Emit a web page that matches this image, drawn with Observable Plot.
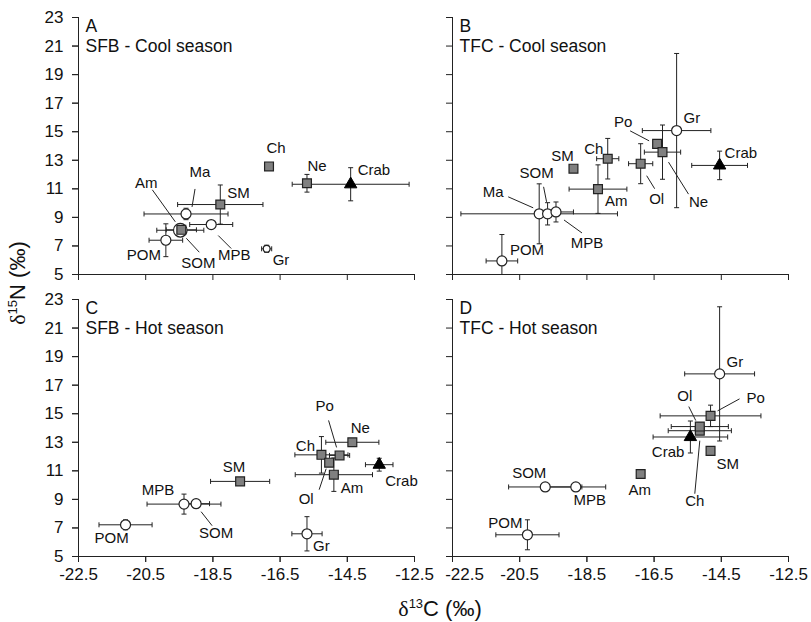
<!DOCTYPE html>
<html><head><meta charset="utf-8">
<script src="https://cdn.jsdelivr.net/npm/d3@7"></script>
<script src="https://cdn.jsdelivr.net/npm/@observablehq/plot@0.6"></script>
<style>
body{margin:0;background:#fff;}
#chart{width:811px;height:622px;position:relative;}
</style></head><body><div id="chart"></div>
<script>
// ---------- DATA ----------
const panelLetters = ["A", "B", "C", "D"];
const panelSites = ["SFB", "TFC", "SFB", "TFC"];
const panelSeasons = ["Cool season", "Cool season", "Hot season", "Hot season"];

const xTicks = [-22.5, -20.5, -18.5, -16.5, -14.5, -12.5];
const yTicks = [5, 7, 9, 11, 13, 15, 17, 19, 21, 23];

// Panel A: SFB - Cool season
const A_groups = ["POM", "SOM", "Am", "Ma", "MPB", "SM", "Ch", "Gr", "Ne", "Crab"];
const A_d13C   = [-19.9, -19.47, -19.44, -19.3, -18.55, -18.28, -16.83, -16.9, -15.7, -14.4];
const A_d15N   = [7.4, 8.1, 8.13, 9.24, 8.5, 9.9, 12.57, 6.8, 11.39, 11.32];
const A_sdC    = [0.5, 0.7, 0.45, 1.25, 0.64, 1.27, 0, 0.15, 0, 1.74];
const A_sdN    = [1.15, 0.3, 0.25, 0.4, 0, 1.37, 0, 0.25, 0.62, 1.16];

// Panel B: TFC - Cool season
const B_groups = ["POM", "Ma", "SOM", "MPB", "SM", "Am", "Ch", "Ol", "Po", "Ne", "Gr", "Crab"];
const B_d13C   = [-21.03, -19.92, -19.67, -19.42, -18.9, -18.17, -17.88, -16.9, -16.41, -16.25, -15.83, -14.55];
const B_d15N   = [5.95, 9.25, 9.25, 9.38, 12.41, 10.98, 13.11, 12.76, 14.15, 13.57, 15.08, 12.64];
const B_sdC    = [0.47, 2.33, 0, 0.52, 0, 0.86, 0.33, 0.36, 0, 0.54, 1.02, 0.83];
const B_sdN    = [1.85, 2.1, 0.78, 0.7, 0, 1.7, 1.42, 1.4, 0, 1.9, 5.4, 1.0];

// Panel C: SFB - Hot season
const C_groups = ["POM", "MPB", "SOM", "SM", "Ch", "Po", "Ol", "Am", "Ne", "Crab", "Gr"];
const C_d13C   = [-21.1, -19.36, -19.0, -17.69, -15.27, -14.73, -15.04, -14.9, -14.35, -13.55, -15.7];
const C_d15N   = [7.22, 8.67, 8.7, 10.26, 12.12, 12.08, 11.57, 10.73, 13.0, 11.43, 6.59];
const C_sdC    = [0.79, 1.1, 0.4, 0.88, 0.79, 0.3, 0, 1.15, 0.79, 0.41, 0.45];
const C_sdN    = [0.35, 0.7, 0, 0.2, 1.28, 0, 0, 1.17, 0.25, 0.45, 1.2];

// Panel D: TFC - Hot season
const D_groups = ["POM", "SOM", "MPB", "Am", "Crab", "Ch", "Ol", "SM", "Po", "Gr"];
const D_d13C   = [-20.27, -19.74, -18.83, -16.9, -15.42, -15.14, -15.14, -14.82, -14.82, -14.55];
const D_d15N   = [6.52, 9.87, 9.87, 10.78, 13.37, 13.81, 14.1, 12.4, 14.85, 17.79];
const D_sdC    = [0.94, 1.09, 0.89, 0, 1.11, 0.94, 0.85, 0, 1.5, 1.04];
const D_sdN    = [1.05, 0, 0, 0, 1.12, 0.25, 0.25, 0, 0.75, 4.7];

const producers = ["POM", "SOM", "MPB", "Ma", "Gr"];

// ---------- LABEL LAYOUT (pixel offsets from each point) ----------
// [group, textAnchor, dx, dy, leader [nearDx, nearDy, farDx, farDy]]
const layout = {
  A: [["POM","middle",-22,15],["SOM","middle",18,33,[6,8,19,22]],["Am","middle",-35,-47,[-6,-8,-29,-40]],
      ["Ma","middle",14,-42,[6,-7,9,-25]],["MPB","middle",23,31,[7,11,20,24]],["SM","start",7,-11],
      ["Ch","middle",7,-18],["Gr","start",6,11],["Ne","middle",10,-17],["Crab","start",7,-14]],
  B: [["POM","start",8,-11],["Ma","middle",-46,-22,[-6,-6,-31,-17]],["SOM","middle",-11,-41,[-1,-12,-4,-27]],
      ["MPB","middle",31,31,[8,8,26,21]],["SM","middle",-11,-13],["Am","start",7,12],["Ch","middle",-14,-10],
      ["Po","middle",-34,-22,[-8,-3,-27,-13]],["Ol","middle",16,35,[6,12,14,25]],["Ne","middle",36,50,[6,10,26,42]],
      ["Gr","start",7,-12],["Crab","start",5,-12]],
  C: [["POM","middle",-14,13],["MPB","middle",-26,-14],["SOM","middle",20,30,[5,8,16,22]],["SM","middle",-6,-14],
      ["Ch","middle",-16,-9],["Po","middle",-15,-49,[-3,-8,-11,-35]],["Ol","middle",-23,36,[-3,6,-10,27]],
      ["Am","start",7,13],["Ne","middle",8,-14],["Crab","start",6,16],["Gr","start",6,12]],
  D: [["POM","middle",-22,-12],["SOM","middle",-16,-14],["MPB","middle",14,13],["Am","middle",-1,16],
      ["Crab","end",-6,15],["Ch","middle",-5,70,[0,10,-5,63]],["SM","start",6,13],
      ["Ol","middle",-15,-30,[-4,-6,-11,-20]],["Po","start",36,-18,[7,-5,29,-17]],["Gr","start",7,-12]]
};

// ---------- BUILD TABLE ----------
const src = {
  A: [A_groups, A_d13C, A_d15N, A_sdC, A_sdN],
  B: [B_groups, B_d13C, B_d15N, B_sdC, B_sdN],
  C: [C_groups, C_d13C, C_d15N, C_sdC, C_sdN],
  D: [D_groups, D_d13C, D_d15N, D_sdC, D_sdN]
};
const rows = [];
panelLetters.forEach((p, i) => {
  const [g, xs, ys, xe, ye] = src[p];
  g.forEach((name, j) => rows.push({
    panel: p, site: panelSites[i], season: panelSeasons[i], group: name,
    x: xs[j], y: ys[j], xe: xe[j], ye: ye[j],
    kind: name === "Crab" ? "triangle" : producers.includes(name) ? "circle" : "square"
  }));
});
const panelRows = panelLetters.map((p, i) => ({panel: p, site: panelSites[i], season: panelSeasons[i],
  text: p + "\n" + panelSites[i] + " - " + panelSeasons[i]}));

const X0 = -22.5, X1 = -12.5, Y0 = 5, Y1 = 23;

const base = {
  width: 811, height: 622,
  marginLeft: 77, marginRight: 22, marginTop: 16, marginBottom: 65,
  x: {domain: [X0, X1], label: null},
  y: {domain: [Y0, Y1], label: null},
  r: {type: "identity"},
  fx: {domain: ["SFB", "TFC"], paddingInner: 0.101, paddingOuter: 0, axis: null, label: null},
  fy: {domain: ["Cool season", "Hot season"], paddingInner: 0.088, paddingOuter: 0, axis: null, label: null},
  style: {fontFamily: "'Liberation Sans', Arial, sans-serif", fontSize: "17px", color: "#1a1a1a", background: "#fff"}
};

// probe pass: read the library's scales to convert pixel offsets into data units
const probe = Plot.plot({...base, marks: [Plot.dot(rows, {x: "x", y: "y", fx: "site", fy: "season"})]});
const sx = probe.scale("x"), sy = probe.scale("y");
const kx = (sx.range[1] - sx.range[0]) / (sx.domain[1] - sx.domain[0]);
const ky = (sy.range[1] - sy.range[0]) / (sy.domain[1] - sy.domain[0]);

// error bars (clipped to the frame)
const hbars = rows.filter(d => d.xe > 0).map(d => ({...d, a: Math.max(X0, d.x - d.xe), b: Math.min(X1, d.x + d.xe)}));
const vbars = rows.filter(d => d.ye > 0).map(d => ({...d, a: Math.max(Y0, d.y - d.ye), b: Math.min(Y1, d.y + d.ye)}));
const capsV = [], capsH = [];
rows.forEach(d => {
  if (d.xe > 0) {
    if (d.x - d.xe >= X0) capsV.push({...d, cx: d.x - d.xe, cy: d.y});
    if (d.x + d.xe <= X1) capsV.push({...d, cx: d.x + d.xe, cy: d.y});
  }
  if (d.ye > 0) {
    if (d.y - d.ye >= Y0) capsH.push({...d, cx: d.x, cy: d.y - d.ye});
    if (d.y + d.ye <= Y1) capsH.push({...d, cx: d.x, cy: d.y + d.ye});
  }
});
const capV = {draw(ctx, size) { const h = Math.sqrt(size / Math.PI); ctx.moveTo(0, -h); ctx.lineTo(0, h); }};
const capH = {draw(ctx, size) { const h = Math.sqrt(size / Math.PI); ctx.moveTo(-h, 0); ctx.lineTo(h, 0); }};

// labels and leaders
const labels = [], leaders = [];
panelLetters.forEach(p => {
  layout[p].forEach(([g, anchor, dx, dy, ld]) => {
    const d = rows.find(r => r.panel === p && r.group === g);
    labels.push({...d, anchor, lx: d.x + dx / kx, ly: d.y + dy / ky});
    if (ld) leaders.push({...d, x1: d.x + ld[0] / kx, y1: d.y + ld[1] / ky, x2: d.x + ld[2] / kx, y2: d.y + ld[3] / ky});
  });
});

// first tick label of each bottom panel (the right one is nudged clear of its neighbour)
const firstTick = [{site: "SFB", season: "Hot season", v: xTicks[0]}, {site: "TFC", season: "Hot season", v: xTicks[0]}];

const ink = "#222";
const rOf = d => (d.panel === "A" && d.group === "Gr") ? 3.4 : (d.panel === "A" && d.group === "SOM") ? 6.8 : 5;

const textMark = anchor => Plot.text(labels.filter(d => d.anchor === anchor), {
  x: "lx", y: "ly", fx: "site", fy: "season", text: "group", textAnchor: anchor,
  lineAnchor: "middle", fontSize: 15, fill: "#111"
});
const firstTickMark = (site, dx) => Plot.text(firstTick.filter(d => d.site === site), {
  x: "v", fx: "site", fy: "season", frameAnchor: "bottom", lineAnchor: "top", dy: 11, dx,
  text: d => d.v.toFixed(1), fontSize: 17, fill: "#111"
});

const plot = Plot.plot({
  ...base,
  marks: [
    Plot.ruleX([X0], {stroke: ink}),
    Plot.ruleY([Y0], {stroke: ink}),
    Plot.axisX({ticks: xTicks, tickSize: 6, tickFormat: () => "", facetAnchor: null, stroke: ink, label: null}),
    Plot.axisX({ticks: xTicks.slice(1), tickSize: 6, tickPadding: 5, tickFormat: d => d.toFixed(1), facetAnchor: "bottom",
      stroke: ink, fill: "#111", fontSize: 17, label: null}),
    firstTickMark("SFB", 0), firstTickMark("TFC", 12),
    Plot.axisY({ticks: yTicks, tickSize: 6, tickFormat: () => "", facetAnchor: null, stroke: ink, label: null}),
    Plot.axisY({ticks: yTicks, tickSize: 6, tickPadding: 9, tickFormat: d => String(d), facetAnchor: "left",
      stroke: ink, fill: "#111", fontSize: 17, label: null}),
    Plot.link(leaders, {x1: "x1", y1: "y1", x2: "x2", y2: "y2", fx: "site", fy: "season", stroke: ink, strokeWidth: 1}),
    Plot.link(hbars, {x1: "a", x2: "b", y1: "y", y2: "y", fx: "site", fy: "season", stroke: ink, strokeWidth: 1}),
    Plot.link(vbars, {x1: "x", x2: "x", y1: "a", y2: "b", fx: "site", fy: "season", stroke: ink, strokeWidth: 1}),
    Plot.dot(capsV, {x: "cx", y: "cy", fx: "site", fy: "season", symbol: capV, r: 2.5, fill: "none", stroke: ink, strokeWidth: 1}),
    Plot.dot(capsH, {x: "cx", y: "cy", fx: "site", fy: "season", symbol: capH, r: 2.5, fill: "none", stroke: ink, strokeWidth: 1}),
    Plot.dot(rows.filter(d => d.kind === "circle"), {x: "x", y: "y", fx: "site", fy: "season", r: rOf,
      symbol: "circle", fill: "#fff", stroke: ink, strokeWidth: 1.2}),
    Plot.dot(rows.filter(d => d.kind === "square"), {x: "x", y: "y", fx: "site", fy: "season", r: 5,
      symbol: "square", fill: "#808080", stroke: ink, strokeWidth: 1.2}),
    Plot.dot(rows.filter(d => d.kind === "triangle"), {x: "x", y: "y", fx: "site", fy: "season", r: 4.6,
      symbol: "triangle", fill: "#000", stroke: "#000", strokeWidth: 1}),
    textMark("start"), textMark("middle"), textMark("end"),
    Plot.text(panelRows, {fx: "site", fy: "season", text: "text", frameAnchor: "top-left", textAnchor: "start",
      lineAnchor: "top", dx: 7, dy: 0, lineHeight: 1.14, fontSize: 17.5, fill: "#111"})
  ]
});

document.getElementById("chart").appendChild(plot);

// axis titles with superscripts
const svg = d3.select(plot);
const xl = svg.append("text").attr("x", 440).attr("y", 616).attr("text-anchor", "middle")
  .attr("font-size", 22).attr("fill", "#111");
xl.append("tspan").attr("font-family", "'Liberation Serif', serif").text("δ");
xl.append("tspan").attr("font-size", 13).attr("dy", -8).text("13");
xl.append("tspan").attr("dy", 8).text("C (‰)");

const yl = svg.append("text").attr("transform", "translate(25,283) rotate(-90)").attr("text-anchor", "middle")
  .attr("font-size", 22).attr("fill", "#111");
yl.append("tspan").attr("font-family", "'Liberation Serif', serif").text("δ");
yl.append("tspan").attr("font-size", 13).attr("dy", -8).text("15");
yl.append("tspan").attr("dy", 8).text("N (‰)");
</script>
</body></html>
